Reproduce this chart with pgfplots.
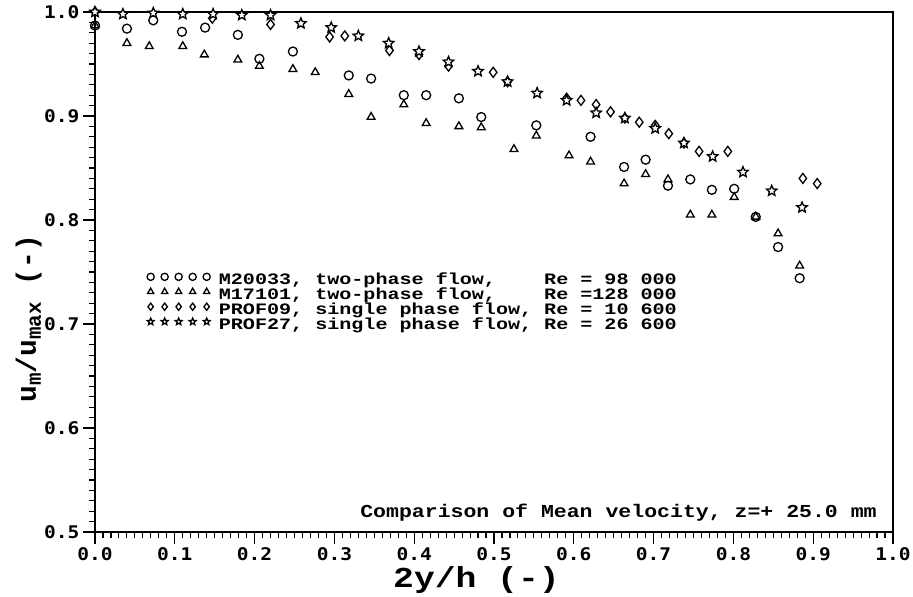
\documentclass[border=0pt]{standalone}
\usepackage{fontspec}
\usepackage{pgfplots}
\pgfplotsset{compat=1.18}
\newfontfamily\legfont[FakeStretch=1.26]{Liberation Mono}
\newfontfamily\annfont[FakeStretch=1.18]{Liberation Mono}
\newfontfamily\tickfont[FakeStretch=1.12]{DejaVu Sans Mono}
\newfontfamily\axfont[FakeStretch=1.2]{Liberation Mono}
\newfontfamily\yaxfont{Liberation Mono}

\pgfdeclareplotmark{ostar}{%
  \pgfpathmoveto{\pgfpointpolar{90}{\pgfplotmarksize}}%
  \pgfpathlineto{\pgfpointpolar{126}{0.45\pgfplotmarksize}}%
  \pgfpathlineto{\pgfpointpolar{162}{\pgfplotmarksize}}%
  \pgfpathlineto{\pgfpointpolar{198}{0.45\pgfplotmarksize}}%
  \pgfpathlineto{\pgfpointpolar{234}{\pgfplotmarksize}}%
  \pgfpathlineto{\pgfpointpolar{270}{0.45\pgfplotmarksize}}%
  \pgfpathlineto{\pgfpointpolar{306}{\pgfplotmarksize}}%
  \pgfpathlineto{\pgfpointpolar{342}{0.45\pgfplotmarksize}}%
  \pgfpathlineto{\pgfpointpolar{18}{\pgfplotmarksize}}%
  \pgfpathlineto{\pgfpointpolar{54}{0.45\pgfplotmarksize}}%
  \pgfpathclose
  \pgfusepathqfillstroke}

\begin{document}
\begin{tikzpicture}
\path[use as bounding box] (-95bp,-65bp) rectangle (818bp,532bp);
\begin{axis}[
  scale only axis, width=798bp, height=520bp,
  at={(0,0)}, anchor=south west,
  xmin=0, xmax=1, ymin=0.5, ymax=1,
  xtick={0,0.1,0.2,0.3,0.4,0.5,0.6,0.7,0.8,0.9,1.0},
  ytick={0.5,0.6,0.7,0.8,0.9,1.0},
  minor x tick num=9, minor y tick num=9,
  tick align=outside, tick pos=left,
  major tick length=12bp, minor tick length=6bp,
  axis line style={line width=1.6bp},
  every tick/.style={black, line width=1.1bp},
  /pgf/number format/assume math mode=true,
  tick label style={font=\tickfont\bfseries\fontsize{17.5}{17.5}\selectfont},
  xticklabel style={/pgf/number format/.cd, fixed, fixed zerofill, precision=1},
  yticklabel style={/pgf/number format/.cd, fixed, fixed zerofill, precision=1},
  xlabel={2y/h (-)},
  xlabel style={font=\axfont\bfseries\fontsize{29}{29}\selectfont, at={(axis description cs:0.478,-0.093)}, anchor=center},
  ylabel={u\raisebox{-5bp}{\fontsize{21}{21}\selectfont m}/u\raisebox{-5bp}{\fontsize{21}{21}\selectfont max} (-)},
  ylabel style={font=\yaxfont\bfseries\fontsize{28}{28}\selectfont, at={(axis description cs:-0.083,0.41)}, anchor=center},
  clip=false,
  legend cell align=left,
  legend style={at={(axis description cs:0.065,0.498)}, anchor=north west, draw=none, fill=none,
    inner sep=0pt, row sep=0pt,
    nodes={inner sep=0pt, text height=10bp, text depth=3.7bp},
    font=\legfont\bfseries\fontsize{16}{16}\selectfont},
  legend image code/.code={\draw[#1, mark size=3.6bp] plot coordinates {(0bp,4.5bp)(14bp,4.5bp)(28bp,4.5bp)(42bp,4.5bp)(56bp,4.5bp)};\path (68bp,4.5bp);},
]
\addplot[only marks, mark=o, mark size=4.5bp, mark options={line width=1.3bp, black}] coordinates {
(0,0.987)(0.040,0.984)(0.073,0.992)(0.109,0.981)(0.138,0.985)(0.179,0.978)(0.206,0.955)(0.248,0.962)
(0.318,0.939)(0.346,0.936)(0.387,0.920)(0.415,0.920)(0.456,0.917)(0.484,0.899)(0.553,0.891)(0.621,0.880)
(0.663,0.851)(0.690,0.858)(0.718,0.833)(0.746,0.839)(0.773,0.829)(0.801,0.830)(0.828,0.803)(0.856,0.774)(0.883,0.744)};
\addlegendentry{M20033, two-phase flow,\ \ \ \ Re = 98 000}
\addplot[only marks, mark=triangle, mark size=4.5bp, mark options={line width=1.3bp, black}] coordinates {
(0,0.987)(0.040,0.970)(0.068,0.967)(0.110,0.967)(0.137,0.959)(0.179,0.954)(0.206,0.948)(0.248,0.945)
(0.276,0.942)(0.318,0.921)(0.346,0.899)(0.387,0.911)(0.415,0.893)(0.456,0.890)(0.484,0.889)(0.525,0.868)
(0.553,0.881)(0.594,0.862)(0.621,0.856)(0.663,0.835)(0.690,0.844)(0.718,0.839)(0.746,0.805)(0.773,0.805)
(0.801,0.822)(0.828,0.803)(0.856,0.787)(0.883,0.756)};
\addlegendentry{M17101, two-phase flow,\ \ \ \ Re =128 000}
\addplot[only marks, mark=diamond, mark size=5bp, mark options={line width=1.3bp, black}] coordinates {
(0,1.0)(0.147,0.994)(0.220,0.988)(0.294,0.976)(0.313,0.977)(0.369,0.963)(0.406,0.959)(0.443,0.948)
(0.499,0.942)(0.517,0.933)(0.591,0.917)(0.609,0.915)(0.628,0.911)(0.646,0.904)(0.664,0.898)(0.682,0.894)
(0.702,0.891)(0.719,0.883)(0.738,0.874)(0.757,0.866)(0.793,0.866)(0.887,0.840)(0.905,0.835)};
\addlegendentry{PROF09, single phase flow, Re = 10 600}
\addplot[only marks, mark=ostar, mark size=5.5bp, mark options={line width=1.3bp, black, fill=white}] coordinates {
(0,1.0)(0.035,0.998)(0.073,0.999)(0.110,0.998)(0.148,0.998)(0.184,0.997)(0.220,0.997)(0.258,0.989)
(0.296,0.985)(0.330,0.977)(0.368,0.970)(0.406,0.962)(0.443,0.952)(0.480,0.943)(0.517,0.933)(0.554,0.922)
(0.591,0.915)(0.628,0.903)(0.664,0.898)(0.702,0.888)(0.738,0.874)(0.774,0.861)(0.812,0.846)(0.848,0.828)(0.886,0.812)};
\addlegendentry{PROF27, single phase flow, Re = 26 600}
\node[anchor=east, font=\annfont\bfseries\fontsize{18.3}{18.3}\selectfont] at (axis description cs:0.984,0.038) {Comparison of Mean velocity, z=+ 25.0 mm};
\end{axis}
\end{tikzpicture}
\end{document}
